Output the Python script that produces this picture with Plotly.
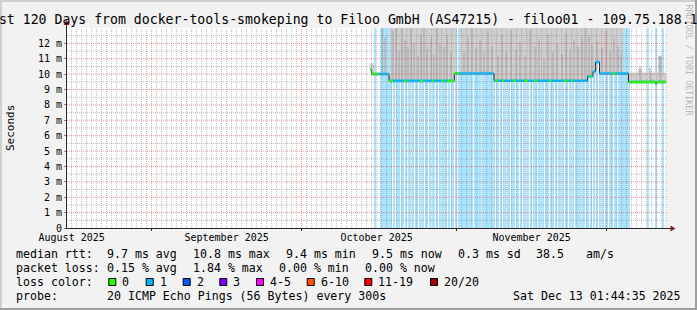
import numpy as np
import pandas as pd
import plotly.graph_objects as go

# ---------------- data ----------------
CHART_START = "2025-08-15 01:44:35"
CHART_END = "2025-12-13 01:44:35"
DAY0 = pd.Timestamp("2025-10-01 00:00:00")   # day offsets below count from here
Y_MAX = 13.0

MONTH_STARTS = ["2025-09-01", "2025-10-01", "2025-11-01", "2025-12-01"]
MONTH_LABEL_AT = ["2025-08-16", "2025-09-16", "2025-10-16", "2025-11-16"]
MONTH_LABELS = ["August 2025", "September 2025", "October 2025", "November 2025"]

Y_TICKS = list(range(0, 13))
Y_TICK_TEXT = ["0"] + [f"{v} m" for v in range(1, 13)]

# median RTT, step function (start day, ms)
MEDIAN_DAY = [13.68, 13.98, 17.48, 30.54, 38.48, 57.18, 58.28, 58.78, 59.58, 65.38, 70.74, 71.02]
MEDIAN_MS = [10.29, 10.01, 9.56, 10.04, 9.57, 9.85, 10.17, 10.79, 10.04, 9.49, 9.38, 9.49]
DATA_END_DAY = 72.9

# stretches where the median band shows 0 loss (green); elsewhere 1 loss (blue)
ZERO_LOSS_FROM = [13.68, 17.48, 20.48, 23.68, 26.08, 28.08, 29.08, 38.68, 40.08, 42.28,
                  44.48, 46.48, 49.48, 52.48, 53.88, 57.68, 62.08, 65.48]
ZERO_LOSS_TO = [15.28, 18.28, 21.08, 24.28, 26.48, 28.48, 31.48, 39.28, 40.48, 42.88,
                45.28, 47.08, 49.88, 53.08, 54.28, 58.08, 62.68, 72.90]

# loss background bars (1/20 lost)
LOSS_FROM = [14.48, 15.58, 18.18, 18.78, 19.78, 20.58, 21.28, 21.98, 22.68, 23.38,
             23.98, 24.68, 25.38, 26.08, 26.78, 27.48, 28.08, 28.78, 29.28, 29.88,
             30.58, 31.28, 34.48, 36.08, 38.88, 39.68, 40.28, 40.98, 41.88, 42.88,
             43.58, 44.28, 45.08, 45.58, 46.28, 46.78, 47.28, 48.08, 48.58, 49.68,
             50.58, 51.18, 52.08, 52.58, 53.38, 54.08, 54.68, 55.58, 56.08, 56.88,
             57.68, 58.28, 58.88, 59.38, 60.08, 60.58, 61.38, 62.38, 63.18, 69.08,
             70.68, 72.08]
LOSS_TO = [14.88, 17.98, 18.58, 19.58, 20.38, 21.08, 21.78, 22.48, 23.18, 23.78,
           24.48, 25.18, 25.88, 26.58, 27.28, 27.88, 28.58, 29.08, 29.68, 30.38,
           30.98, 34.28, 35.88, 38.68, 39.48, 40.08, 40.78, 41.68, 42.68, 43.38,
           44.08, 44.88, 45.38, 46.08, 46.58, 47.08, 47.88, 48.38, 49.48, 50.38,
           50.98, 51.88, 52.38, 53.18, 53.88, 54.48, 55.38, 55.88, 56.68, 57.48,
           58.08, 58.68, 59.18, 59.88, 60.38, 61.18, 62.18, 62.98, 65.58, 69.38,
           70.88, 72.28]

# smoke upper envelope (step function: start day, ms)
SMOKE_DAY = [13.68, 14.58, 17.68, 30.88, 31.68, 64.28, 65.38, 67.28, 68.08, 71.28, 72.08]
SMOKE_TOP_MS = [10.7, 10.01, 13.0, 10.04, 13.0, 10.04, 10.1, 10.3, 10.1, 11.2, 10.1]

# darker smoke streaks (day, top ms)
STREAK_DAY = [16.18, 16.68, 18.28, 18.88, 19.48, 20.08, 20.68, 21.28, 21.88, 22.48,
              23.28, 23.88, 24.48, 25.08, 25.88, 26.48, 27.08, 27.68, 28.48, 29.08,
              29.88, 32.48, 33.28, 34.08, 34.88, 35.68, 36.48, 37.28, 38.08, 39.28,
              40.08, 40.88, 41.88, 42.88, 43.68, 44.68, 45.68, 46.68, 47.48, 48.48,
              49.28, 50.28, 51.08, 52.08, 52.88, 53.68, 54.48, 55.28, 56.08, 56.68,
              57.48, 58.08, 59.08, 60.08, 60.88, 61.68, 62.48, 63.28, 63.88, 67.68,
              69.68, 71.68]
STREAK_TOP_MS = [13.0, 12.4, 12.8, 13.0, 11.5, 13.0, 12.2, 11.8, 13.0, 12.0,
                 11.2, 12.6, 13.0, 11.6, 12.4, 11.3, 13.0, 12.0, 11.8, 12.5,
                 11.4, 11.5, 12.4, 13.0, 11.7, 12.2, 11.4, 12.8, 11.8, 11.2,
                 12.6, 11.4, 12.8, 11.6, 12.1, 11.2, 12.9, 11.8, 12.3, 11.0,
                 12.6, 11.5, 12.0, 11.3, 12.7, 11.6, 12.2, 11.8, 12.4, 13.0,
                 12.5, 11.9, 12.2, 11.7, 12.8, 11.5, 12.3, 11.8, 11.3, 10.5,
                 10.4, 11.2]

TITLE = "Last 120 Days from docker-tools-smokeping to Filoo GmbH (AS47215) - filoo01 - 109.75.188.1"
MEDIAN_STATS = ["9.7 ms avg", "10.8 ms max", "9.4 ms min", "9.5 ms now", "0.3 ms sd", "38.5", "am/s"]
LOSS_STATS = ["0.15 % avg", "1.84 % max", "0.00 % min", "0.00 % now"]
LOSS_COLOR_LABELS = ["0", "1", "2", "3", "4-5", "6-10", "11-19", "20/20"]
LOSS_COLORS = ["#26ff00", "#00b8ff", "#0059ff", "#7e00ff", "#ff00ff", "#ff5500", "#ff0000", "#a00000"]
PROBE_TEXT = "20 ICMP Echo Pings (56 Bytes) every 300s"
STAMP = "Sat Dec 13 01:44:35 2025"

# ---------------- styling ----------------
W, H = 697, 310
PL, PR, PT, PB = 67, 667, 28, 228
MONO = "DejaVu Sans Mono"
BG = "#f2f2f2"
GRID_MINOR = "rgba(143,143,143,0.6)"
GRID_MAJOR = "rgba(222,79,79,0.6)"
AXIS_COL = "#2a2a2a"
ARROW_COL = "#801f1f"
LOSS_BG = "rgb(170,228,255)"
SMOKE_COL = "#cfcfcf"
STREAK_COL = "#acacac"


def px(xp):
    return (xp - PL) / (PR - PL)


def py(yp):
    return (PB - yp) / (PB - PT)


def to_dt(d):
    return None if d is None else DAY0 + pd.Timedelta(days=float(d))


def median_at(t):
    i = int(np.searchsorted(MEDIAN_DAY, t, side="right")) - 1
    return MEDIAN_MS[max(i, 0)]


def band_segments(ranges):
    xs, ys = [], []
    bounds = MEDIAN_DAY + [DATA_END_DAY]
    for i, v in enumerate(MEDIAN_MS):
        t0, t1 = bounds[i], bounds[i + 1]
        for a, b in ranges:
            lo, hi = max(a, t0), min(b, t1)
            if hi > lo:
                xs += [to_dt(lo), to_dt(hi), None]
                ys += [v, v, None]
    return xs, ys


fig = go.Figure()

# loss background bars
loss_mid = [to_dt((a + b) / 2) for a, b in zip(LOSS_FROM, LOSS_TO)]
loss_w = [(b - a) * 86400000 for a, b in zip(LOSS_FROM, LOSS_TO)]
fig.add_trace(go.Bar(x=loss_mid, y=[Y_MAX] * len(loss_mid), width=loss_w,
                     marker=dict(color=LOSS_BG, line=dict(width=0)), hoverinfo="skip"))

# smoke: fill between median path and smoke envelope
med_x = [to_dt(d) for d in MEDIAN_DAY + [DATA_END_DAY]]
med_y = MEDIAN_MS + [MEDIAN_MS[-1]]
fig.add_trace(go.Scatter(x=med_x, y=med_y, mode="lines", line=dict(width=0, shape="hv"),
                         hoverinfo="skip"))
fig.add_trace(go.Scatter(x=[to_dt(d) for d in SMOKE_DAY + [DATA_END_DAY]],
                         y=SMOKE_TOP_MS + [SMOKE_TOP_MS[-1]], mode="lines",
                         line=dict(width=0, shape="hv"), fill="tonexty",
                         fillcolor=SMOKE_COL, hoverinfo="skip"))

# darker smoke streaks
sx, sy = [], []
for t, top in zip(STREAK_DAY, STREAK_TOP_MS):
    sx += [to_dt(t), to_dt(t), None]
    sy += [median_at(t), top, None]
fig.add_trace(go.Scatter(x=sx, y=sy, mode="lines", line=dict(color=STREAK_COL, width=1.2),
                         hoverinfo="skip"))

# median: black line, then loss-coloured band (on overlay axis x2, drawn above)
fig.add_trace(go.Scatter(x=med_x, y=med_y, mode="lines", xaxis="x2",
                         line=dict(color="#202020", width=1, shape="hv"), hoverinfo="skip"))
bx, by = band_segments([(MEDIAN_DAY[0], DATA_END_DAY)])
fig.add_trace(go.Scatter(x=bx, y=by, mode="lines", xaxis="x2",
                         line=dict(color=LOSS_COLORS[1], width=2.6), hoverinfo="skip"))
gx, gy = band_segments(list(zip(ZERO_LOSS_FROM, ZERO_LOSS_TO)))
fig.add_trace(go.Scatter(x=gx, y=gy, mode="lines", xaxis="x2",
                         line=dict(color=LOSS_COLORS[0], width=2.6), hoverinfo="skip"))

shapes = []
# grid (drawn above the data, like rrdtool)
month_set = set(pd.to_datetime(MONTH_STARTS))
for d in pd.date_range("2025-08-16", "2025-12-13", freq="D"):
    major = d in month_set
    shapes.append(dict(type="line", xref="x", yref="paper", x0=d, x1=d, y0=0, y1=1,
                       line=dict(color=GRID_MAJOR if major else GRID_MINOR, width=1, dash="1px,1px"),
                       layer="above"))
for k in range(1, 26):
    v = k * 0.5
    major = (k % 2 == 0)
    shapes.append(dict(type="line", xref="paper", yref="y", x0=0, x1=1, y0=v, y1=v,
                       line=dict(color=GRID_MAJOR if major else GRID_MINOR, width=1, dash="1px,1px"),
                       layer="above"))

# axis extensions and arrows
shapes.append(dict(type="line", xref="paper", yref="paper", x0=px(66.5), x1=px(66.5),
                   y0=py(28), y1=py(24), line=dict(color=AXIS_COL, width=1)))
shapes.append(dict(type="path", xref="paper", yref="paper",
                   path=f"M {px(63.5)} {py(25)} L {px(69.5)} {py(25)} L {px(66.5)} {py(20)} Z",
                   fillcolor=ARROW_COL, line=dict(width=0)))
shapes.append(dict(type="line", xref="paper", yref="paper", x0=px(667), x1=px(671),
                   y0=py(228.5), y1=py(228.5), line=dict(color=AXIS_COL, width=1)))
shapes.append(dict(type="path", xref="paper", yref="paper",
                   path=f"M {px(670.5)} {py(225.5)} L {px(670.5)} {py(231.5)} L {px(675.5)} {py(228.5)} Z",
                   fillcolor=ARROW_COL, line=dict(width=0)))

# outer frame
shapes.append(dict(type="rect", xref="paper", yref="paper", x0=px(0), x1=px(W), y0=py(0), y1=py(2),
                   fillcolor="#cfcfcf", line=dict(width=0)))
shapes.append(dict(type="rect", xref="paper", yref="paper", x0=px(0), x1=px(2), y0=py(0), y1=py(H),
                   fillcolor="#cfcfcf", line=dict(width=0)))
shapes.append(dict(type="rect", xref="paper", yref="paper", x0=px(0), x1=px(W), y0=py(H - 2), y1=py(H),
                   fillcolor="#9e9e9e", line=dict(width=0)))
shapes.append(dict(type="rect", xref="paper", yref="paper", x0=px(W - 2), x1=px(W), y0=py(0), y1=py(H),
                   fillcolor="#9e9e9e", line=dict(width=0)))

# loss colour swatches
SWATCH_X = [108.3, 145.7, 182.7, 219.3, 256.0, 306.7, 364.3, 430.0]
for sxp, col in zip(SWATCH_X, LOSS_COLORS):
    shapes.append(dict(type="rect", xref="paper", yref="paper", x0=px(sxp + 0.5), x1=px(sxp + 7.5),
                       y0=py(285.5), y1=py(278.5), fillcolor=col, line=dict(color="black", width=1)))

annotations = []


def text(x, y, s, size=11.6, color="black", xanchor="left", angle=0, yanchor="middle"):
    annotations.append(dict(xref="paper", yref="paper", x=px(x), y=py(y), text=s, showarrow=False,
                            xanchor=xanchor, yanchor=yanchor, textangle=angle, borderpad=0, borderwidth=0,
                            font=dict(family=MONO, size=size, color=color)))


text(-16.7, 19.4, TITLE, size=13.2)
text(688.5, 60, "RRDTOOL / TOBI OETIKER", size=8.4, color="#b8b8b8", xanchor="center", angle=90)
text(10, 128, "Seconds", size=11, xanchor="center", angle=-90)

L1, L2, L3, L4 = 253.7, 267.7, 281.7, 295.7
text(15.5, L1, "median rtt:")
for xp, s in zip([106.5, 192.5, 285.9, 371.9, 457.5, 535.9, 585.9], MEDIAN_STATS):
    text(xp, L1, s)
text(15.5, L2, "packet loss:")
for xp, s in zip([106.5, 192.5, 278.5, 364.5], LOSS_STATS):
    text(xp, L2, s)
text(15.5, L3, "loss color:")
for sxp, s in zip(SWATCH_X, LOSS_COLOR_LABELS):
    text(sxp + 13.8, L3, s)
text(15.5, L4, "probe:")
text(106.5, L4, PROBE_TEXT)
text(680.7, L4, STAMP, xanchor="right")

fig.update_layout(
    width=W, height=H, margin=dict(l=PL, r=W - PR, t=PT, b=H - PB, pad=0),
    paper_bgcolor=BG, plot_bgcolor="white", showlegend=False, barmode="overlay", bargap=0,
    shapes=shapes, annotations=annotations,
    xaxis=dict(type="date", range=[CHART_START, CHART_END], tickvals=MONTH_STARTS,
               ticktext=[""] * len(MONTH_STARTS), showgrid=False, zeroline=False,
               showline=True, linecolor=AXIS_COL, linewidth=1, ticks="outside", ticklen=2,
               tickcolor=AXIS_COL, fixedrange=True),
    xaxis2=dict(type="date", range=[CHART_START, CHART_END], overlaying="x", matches="x",
                anchor="y", side="bottom", tickvals=MONTH_LABEL_AT, ticktext=MONTH_LABELS,
                showgrid=False, zeroline=False, showline=False, ticks="", ticklabelstandoff=2,
                tickfont=dict(family=MONO, size=10, color="black")),
    yaxis=dict(range=[0, Y_MAX], tickvals=Y_TICKS, ticktext=Y_TICK_TEXT, showgrid=False,
               zeroline=False, showline=True, linecolor=AXIS_COL, linewidth=1,
               ticks="outside", ticklen=2, tickcolor="#888888",
               tickfont=dict(family=MONO, size=10, color="black"), fixedrange=True),
)

fig.write_html("out.html")
